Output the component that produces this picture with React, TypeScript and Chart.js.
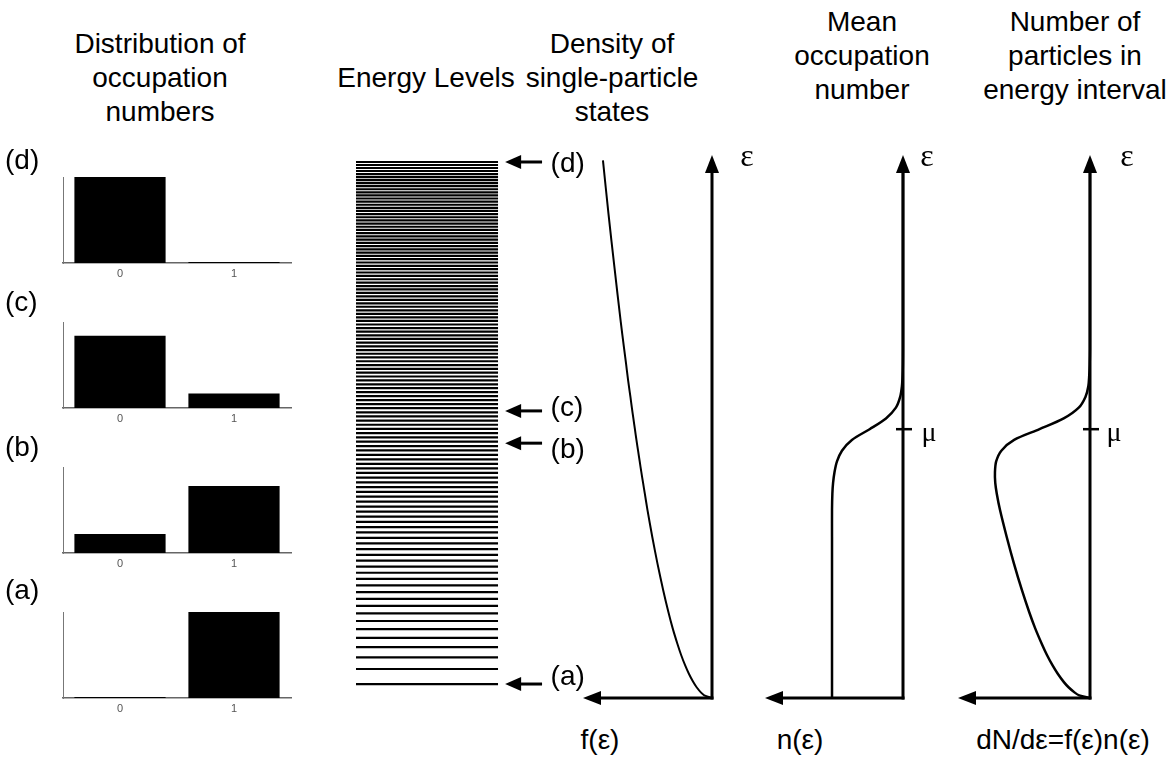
import React, { useEffect, useRef } from 'react';
import { Chart, registerables } from 'chart.js';
Chart.register(...registerables);

// ---------- data ----------
const occupationLabels = ['0', '1'];
const occD = [1.0, 0.012];
const occC = [0.84, 0.17];
const occB = [0.22, 0.78];
const occA = [0.012, 1.0];
const panelNames = ['(d)', '(c)', '(b)', '(a)'];

const energyLevels = [
  0.0259, 0.0539, 0.0757, 0.0948, 0.1120, 0.1281, 0.1432, 0.1575, 0.1712, 0.1844,
  0.1971, 0.2094, 0.2214, 0.2330, 0.2444, 0.2555, 0.2664, 0.2770, 0.2875, 0.2978,
  0.3079, 0.3178, 0.3276, 0.3372, 0.3467, 0.3561, 0.3653, 0.3745, 0.3835, 0.3924,
  0.4012, 0.4100, 0.4186, 0.4271, 0.4356, 0.4440, 0.4523, 0.4605, 0.4686, 0.4767,
  0.4847, 0.4926, 0.5005, 0.5083, 0.5161, 0.5238, 0.5314, 0.5390, 0.5466, 0.5540,
  0.5615, 0.5689, 0.5762, 0.5835, 0.5908, 0.5980, 0.6051, 0.6123, 0.6193, 0.6264,
  0.6334, 0.6403, 0.6472, 0.6541, 0.6610, 0.6678, 0.6746, 0.6813, 0.6880, 0.6947,
  0.7014, 0.7080, 0.7146, 0.7211, 0.7277, 0.7342, 0.7406, 0.7471, 0.7535, 0.7599,
  0.7662, 0.7726, 0.7789, 0.7851, 0.7914, 0.7976, 0.8038, 0.8100, 0.8162, 0.8223,
  0.8284, 0.8345, 0.8406, 0.8466, 0.8526, 0.8586, 0.8646, 0.8706, 0.8765, 0.8824,
  0.8883, 0.8942, 0.9000, 0.9059, 0.9117, 0.9175, 0.9233, 0.9291, 0.9348, 0.9406,
  0.9463, 0.9520, 0.9577, 0.9633, 0.9690, 0.9746, 0.9802, 0.9858, 0.9914, 0.9970,
];
const arrowLevels = [0.997, 0.534, 0.474, 0.026];
const arrowLabels = ['(d)', '(c)', '(b)', '(a)'];

const epsGrid = [0, 0.005, 0.01, 0.02, 0.03, 0.045, 0.06, 0.08, 0.1, 0.13, 0.16, 0.2, 0.25, 0.3, 0.35, 0.38, 0.4, 0.42, 0.44, 0.46, 0.48, 0.5, 0.52, 0.54, 0.56, 0.58, 0.6, 0.62, 0.65, 0.7, 0.8, 0.9, 1.0];
const densityF = [0, 0.071, 0.1, 0.141, 0.173, 0.212, 0.245, 0.283, 0.316, 0.361, 0.4, 0.447, 0.5, 0.548, 0.592, 0.616, 0.632, 0.648, 0.663, 0.678, 0.693, 0.707, 0.721, 0.735, 0.748, 0.762, 0.775, 0.787, 0.806, 0.837, 0.894, 0.949, 1.0];
const meanN = [1, 1, 1, 1, 1, 1, 1, 1, 1, 1, 1, 1, 1, 1, 1, 0.995, 0.985, 0.965, 0.93, 0.86, 0.72, 0.47, 0.24, 0.10, 0.04, 0.015, 0.006, 0.002, 0, 0, 0, 0, 0];
const particlesDN = [0, 0.071, 0.1, 0.141, 0.173, 0.212, 0.245, 0.283, 0.316, 0.361, 0.4, 0.447, 0.5, 0.548, 0.592, 0.613, 0.623, 0.625, 0.617, 0.583, 0.499, 0.332, 0.173, 0.074, 0.030, 0.011, 0.005, 0.002, 0, 0, 0, 0, 0];
const muValue = 0.5;
const epsMax = 1.01;

// ---------- styling ----------
const SANS = "'Liberation Sans', Arial, Helvetica, sans-serif";
const SERIF = "'Liberation Serif', 'Times New Roman', serif";

function drawArrow(ctx: CanvasRenderingContext2D, x1: number, y1: number, x2: number, y2: number, headLen: number, halfW: number, lw: number) {
  const dx = x2 - x1, dy = y2 - y1;
  const len = Math.hypot(dx, dy);
  const ux = dx / len, uy = dy / len;
  const bx = x2 - ux * headLen, by = y2 - uy * headLen;
  ctx.beginPath();
  ctx.moveTo(x1, y1);
  ctx.lineTo(bx + ux, by + uy);
  ctx.lineWidth = lw;
  ctx.lineCap = 'butt';
  ctx.strokeStyle = '#000';
  ctx.stroke();
  ctx.beginPath();
  ctx.moveTo(x2, y2);
  ctx.lineTo(bx - uy * halfW, by + ux * halfW);
  ctx.lineTo(bx + uy * halfW, by - ux * halfW);
  ctx.closePath();
  ctx.fillStyle = '#000';
  ctx.fill();
}

const arrowAxesPlugin = {
  id: 'arrowAxes',
  afterDraw(chart: any, _args: any, o: any) {
    const ctx = chart.ctx as CanvasRenderingContext2D;
    const xs = chart.scales.x, ys = chart.scales.y;
    const x0 = xs.getPixelForValue(0), y0 = ys.getPixelForValue(0);
    const xEnd = xs.getPixelForValue(xs.max), yEnd = ys.getPixelForValue(ys.max);
    ctx.save();
    drawArrow(ctx, x0, y0 + 1.5, x0, yEnd, 18, 7, 3);
    drawArrow(ctx, x0 + 1.5, y0, xEnd, y0, 18, 7, 3);
    if (o.mu !== null && o.mu !== undefined) {
      const ym = ys.getPixelForValue(o.mu);
      ctx.beginPath();
      ctx.moveTo(x0 - 7, ym);
      ctx.lineTo(x0 + 9, ym);
      ctx.lineWidth = 2.5;
      ctx.stroke();
      ctx.font = `28px ${SERIF}`;
      ctx.textBaseline = 'middle';
      ctx.textAlign = 'center';
      ctx.fillText('μ', x0 + o.muDx, ym + 4);
    }
    ctx.font = `32px ${SERIF}`;
    ctx.textBaseline = 'middle';
    ctx.textAlign = 'center';
    ctx.fillText('ε', x0 + o.epsDx, yEnd + 3);
    ctx.restore();
  },
};

const levelArrowsPlugin = {
  id: 'levelArrows',
  afterDraw(chart: any, _args: any, o: any) {
    const ctx = chart.ctx as CanvasRenderingContext2D;
    const xs = chart.scales.x, ys = chart.scales.y;
    ctx.save();
    arrowLevels.forEach((v, i) => {
      const y = ys.getPixelForValue(v);
      drawArrow(ctx, xs.getPixelForValue(1.31), y, xs.getPixelForValue(1.05), y, 16, 7, 3);
      ctx.font = `28px ${SANS}`;
      ctx.textBaseline = 'middle';
      ctx.textAlign = 'left';
      ctx.fillStyle = '#000';
      ctx.fillText(arrowLabels[i], xs.getPixelForValue(1.37), y + o.labelDy[i]);
    });
    ctx.restore();
  },
};

function barConfig(values: number[]): any {
  return {
    type: 'bar',
    data: {
      labels: occupationLabels,
      datasets: [{ data: values, backgroundColor: '#000', borderWidth: 0, barPercentage: 0.8, categoryPercentage: 1 }],
    },
    options: {
      animation: false,
      responsive: false,
      events: [],
      layout: { padding: { left: 63, right: 9, top: 10, bottom: 0 } },
      plugins: { legend: { display: false }, tooltip: { enabled: false } },
      scales: {
        x: {
          grid: { display: false, drawTicks: false },
          border: { display: true, color: '#666', width: 1.5 },
          ticks: { color: '#555', font: { size: 11, family: SANS }, padding: 4 },
          afterFit: (s: any) => { s.height = 24; },
        },
        y: {
          min: 0, max: 1,
          grid: { display: false, drawTicks: false },
          border: { display: true, color: '#777', width: 1 },
          ticks: { display: false },
          afterFit: (s: any) => { s.width = 0; },
        },
      },
    },
  };
}

function levelsConfig(): any {
  const pts: any[] = [];
  energyLevels.forEach((e) => {
    pts.push({ x: 0, y: e }, { x: 1, y: e }, { x: 1, y: null });
  });
  return {
    type: 'line',
    data: {
      datasets: [{ data: pts, borderColor: '#000', borderWidth: 2.2, pointRadius: 0, spanGaps: false, tension: 0, borderCapStyle: 'butt', clip: false }],
    },
    options: {
      animation: false,
      responsive: false,
      events: [],
      layout: { padding: { left: 0, right: 0, top: 20, bottom: 20 } },
      plugins: { legend: { display: false }, tooltip: { enabled: false }, levelArrows: { labelDy: [2, -3, 7, -7] } },
      scales: {
        x: { type: 'linear', min: 0, max: 1.718, display: false },
        y: { type: 'linear', min: 0, max: epsMax, display: false },
      },
    },
    plugins: [levelArrowsPlugin],
  };
}

function curveConfig(values: number[], xMax: number, lw: number, mu: number | null, epsDx: number, muDx: number): any {
  return {
    type: 'line',
    data: {
      datasets: [{
        data: epsGrid.map((e, i) => ({ x: values[i], y: e })),
        borderColor: '#000', borderWidth: lw, pointRadius: 0, tension: 0.3, fill: false, clip: false,
      }],
    },
    options: {
      animation: false,
      responsive: false,
      events: [],
      layout: { padding: { left: 20, right: 60, top: 20, bottom: 20 } },
      plugins: { legend: { display: false }, tooltip: { enabled: false }, arrowAxes: { mu, epsDx, muDx } },
      scales: {
        x: { type: 'linear', min: 0, max: xMax, reverse: true, display: false },
        y: { type: 'linear', min: 0, max: epsMax, display: false },
      },
    },
    plugins: [arrowAxesPlugin],
  };
}

function ChartBox({ config, left, top, width, height }: { config: any; left: number; top: number; width: number; height: number }) {
  const ref = useRef<HTMLCanvasElement>(null);
  useEffect(() => {
    const chart = new Chart(ref.current as HTMLCanvasElement, config);
    return () => chart.destroy();
  }, []);
  return (
    <canvas ref={ref} width={width} height={height}
      style={{ position: 'absolute', left, top, width, height }} />
  );
}

function Text({ children, cx, top, size = 28, width = 320, family = SANS, lh = 34 }: any) {
  return (
    <div style={{
      position: 'absolute', left: cx - width / 2, top, width, textAlign: 'center',
      fontFamily: family, fontSize: size, lineHeight: `${lh}px`, color: '#000', whiteSpace: 'pre',
    }}>{children}</div>
  );
}

export default function App() {
  const barTops = [177, 322, 467, 612];
  const barData = [occD, occC, occB, occA];
  const labelY = [160, 302, 447, 590];
  return (
    <div style={{ position: 'fixed', left: 0, top: 0, width: 1171, height: 759, background: '#fff', overflow: 'hidden' }}>
      <Text cx={160} top={27}>{'Distribution of\noccupation\nnumbers'}</Text>
      <Text cx={426} top={61}>{'Energy Levels'}</Text>
      <Text cx={612} top={27}>{'Density of\nsingle-particle\nstates'}</Text>
      <Text cx={862} top={5}>{'Mean\noccupation\nnumber'}</Text>
      <Text cx={1075} top={5}>{'Number of\nparticles in\nenergy interval'}</Text>

      {barData.map((d, i) => (
        <ChartBox key={i} config={barConfig(d)} left={0} top={barTops[i] - 10} width={300} height={120} />
      ))}
      {panelNames.map((n, i) => (
        <div key={n} style={{ position: 'absolute', left: 5, top: labelY[i] - 17, fontFamily: SANS, fontSize: 28, lineHeight: '34px' }}>{n}</div>
      ))}

      <ChartBox config={levelsConfig()} left={356} top={135} width={244} height={583} />

      <ChartBox config={curveConfig(densityF, 1.183, 2, null, 35, 0)} left={563} top={135} width={209} height={583} />
      <ChartBox config={curveConfig(meanN, 1.944, 2.5, muValue, 24, 26)} left={745} top={135} width={218} height={583} />
      <ChartBox config={curveConfig(particlesDN, 0.868, 2.5, muValue, 37, 24)} left={938} top={135} width={212} height={583} />

      <Text cx={600} top={723}>{'f(ε)'}</Text>
      <Text cx={800} top={723}>{'n(ε)'}</Text>
      <Text cx={1063} top={723}>{'dN/dε=f(ε)n(ε)'}</Text>
    </div>
  );
}
